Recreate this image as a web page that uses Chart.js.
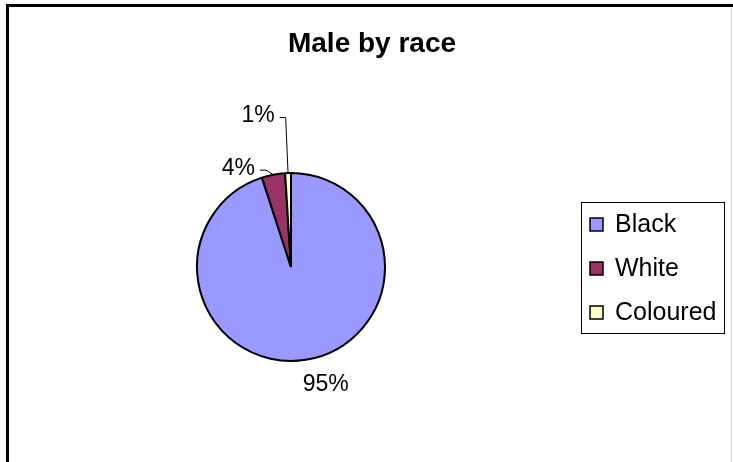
<!DOCTYPE html>
<html>
<head>
<meta charset="utf-8">
<title>Male by race</title>
<script src="https://cdn.jsdelivr.net/npm/chart.js@4.4.1/dist/chart.umd.min.js"></script>
<style>
  html, body { margin: 0; padding: 0; background: #fff; }
  #wrap { width: 733px; height: 462px; }
</style>
</head>
<body>
<div id="wrap"><canvas id="raceChart" width="733" height="462"></canvas></div>
<script>
// --- DATA ---
const races = ["Black", "White", "Coloured"];
const malePercent = [95, 4, 1];
const sliceColors = ["#9999FF", "#993366", "#FFFFCC"];
const chartTitle = "Male by race";

const FONT = "'Liberation Sans', Arial, sans-serif";

// white page, black frame on top/left, thin grey right edge, and the title
const framePlugin = {
  id: 'frame',
  beforeDraw(chart) {
    const ctx = chart.ctx;
    ctx.save();
    ctx.fillStyle = '#fff';
    ctx.fillRect(0, 0, chart.width, chart.height);
    ctx.fillStyle = '#000';
    ctx.fillRect(6, 4, chart.width - 6, 3);
    ctx.fillRect(6, 4, 3, chart.height - 4);
    ctx.fillStyle = '#d4d4d4';
    ctx.fillRect(chart.width - 2, 7, 1, chart.height - 7);

    ctx.fillStyle = '#000';
    ctx.font = 'bold 28px ' + FONT;
    ctx.textAlign = 'center';
    ctx.textBaseline = 'alphabetic';
    ctx.fillText(chartTitle, 372, 52);
    ctx.restore();
  }
};

// percent labels, placed relative to the middle of each slice's outer edge
const labelPlugin = {
  id: 'pctLabels',
  afterDatasetsDraw(chart, args, opts) {
    const ctx = chart.ctx;
    const meta = chart.getDatasetMeta(0);
    ctx.save();
    ctx.font = opts.fontSize + 'px ' + FONT;
    ctx.fillStyle = '#000';
    ctx.strokeStyle = '#000';
    ctx.lineWidth = 1;
    ctx.textAlign = 'center';
    ctx.textBaseline = 'middle';
    meta.data.forEach((arc, i) => {
      const p = arc.getProps(['x', 'y', 'startAngle', 'endAngle', 'outerRadius'], true);
      const mid = (p.startAngle + p.endAngle) / 2;
      const ax = p.x + Math.cos(mid) * p.outerRadius;
      const ay = p.y + Math.sin(mid) * p.outerRadius;
      const off = opts.offsets[i];
      const lx = ax + off[0], ly = ay + off[1];
      const text = malePercent[i] + '%';
      ctx.fillText(text, lx, ly);
      if (off[2]) {
        // leader line: short horizontal tick, then down to the slice
        const w = ctx.measureText(text).width;
        const sx = lx + w / 2 + 5;
        ctx.beginPath();
        ctx.moveTo(sx, ly + 1.5);
        ctx.lineTo(sx + 6, ly + 1.5);
        ctx.lineTo(ax, ay);
        ctx.stroke();
      }
    });
    ctx.restore();
  }
};

// boxed legend on the right
const legendPlugin = {
  id: 'boxLegend',
  afterDraw(chart, args, opts) {
    const ctx = chart.ctx;
    const ds = chart.data.datasets[0];
    ctx.save();
    ctx.strokeStyle = '#000';
    ctx.lineWidth = 1;
    ctx.strokeRect(opts.x + 0.5, opts.y + 0.5, opts.w, opts.h);
    ctx.font = opts.fontSize + 'px ' + FONT;
    ctx.textBaseline = 'middle';
    ctx.textAlign = 'left';
    chart.data.labels.forEach((lab, i) => {
      const cy = opts.firstY + i * opts.rowGap;
      const bx = opts.x + 9, by = Math.round(cy - 6);
      ctx.fillStyle = ds.backgroundColor[i];
      ctx.fillRect(bx, by, 13, 13);
      ctx.lineWidth = 1.5;
      ctx.strokeRect(bx, by, 13, 13);
      ctx.fillStyle = '#000';
      ctx.fillText(lab, opts.x + 34, cy + 1);
    });
    ctx.restore();
  }
};

const ctx = document.getElementById('raceChart');
const raceChart = new Chart(ctx, {
  type: 'pie',
  data: {
    labels: races,
    datasets: [{
      data: malePercent,
      backgroundColor: sliceColors,
      borderColor: '#000',
      borderWidth: 2
    }]
  },
  options: {
    responsive: false,
    devicePixelRatio: 1,
    animation: false,
    layout: { padding: { left: 196, right: 347, top: 172, bottom: 100 } },
    plugins: {
      legend: { display: false },
      title: { display: false },
      tooltip: { enabled: false },
      pctLabels: {
        fontSize: 23,
        offsets: [[20, 25, false], [-35, -6, true], [-30, -57, true]]
      },
      boxLegend: { x: 581, y: 202, w: 143, h: 131, firstY: 224, rowGap: 44, fontSize: 25 }
    }
  },
  plugins: [framePlugin, labelPlugin, legendPlugin]
});
</script>
</body>
</html>
